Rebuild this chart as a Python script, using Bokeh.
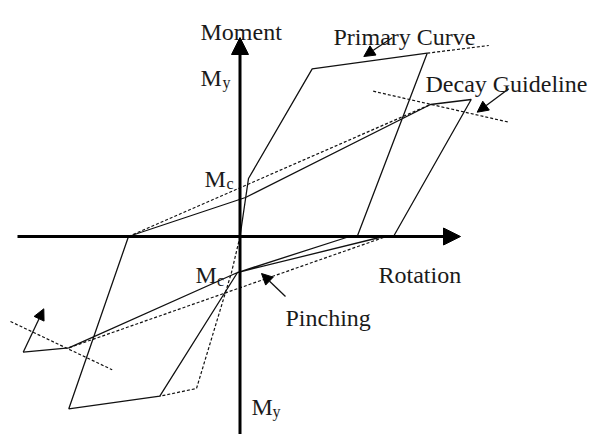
from bokeh.plotting import figure
from bokeh.models import Range1d, Arrow, NormalHead, Label
from bokeh.embed import file_html
from bokeh.resources import INLINE

# Diagram coordinates: rotation (x) and moment (y), origin at the axes crossing
primary_rot = [0, 8.5, 72.2, 187.2]
primary_mom = [0, 58, 167.7, 183.3]
primary_ext_rot = [187.2, 248.8]
primary_ext_mom = [183.3, 191]

neg_primary_rot = [0, -8.5, -43.5, -80.2]
neg_primary_mom = [0, -36, -152, -159.7]

hyst_rot = [187.2, 117.2, 109.5, -2.5, -80.2, -171.2, -111.5, 5.5, 190.5, 231.2,
            153.5, 143.5, -2.5, -171.2, -216.8]
hyst_mom = [183.3, 0, 0, -36, -159.7, -172.3, 0, 39, 132, 137,
            0, 0, -36, -111.3, -115.7]

reload_pos_rot = [-111.5, 190.5]
reload_pos_mom = [0, 132]
reload_neg_rot = [143.5, -171.2]
reload_neg_mom = [-1, -111.3]

decay_pos_rot = [133.2, 268.8]
decay_pos_mom = [145.3, 114.3]
decay_neg_rot = [-229.5, -127.8]
decay_neg_mom = [-85, -133.3]

next_rot = [-216.8, -196.2]
next_mom = [-115.7, -72.3]

W, H = 589, 434
p = figure(width=W, height=H, x_range=Range1d(-239.5, W - 239.5), y_range=Range1d(236 - H, 236),
           output_backend="svg", toolbar_location=None, min_border=0,
           x_axis_location=None, y_axis_location=None)
p.grid.visible = False
p.outline_line_color = None
p.background_fill_color = "white"
p.border_fill_color = "white"

LC = "#111111"
# Coordinate axes
p.add_layout(Arrow(end=NormalHead(size=17, fill_color="black", line_color="black"),
                   x_start=0, y_start=-205, x_end=0, y_end=199, line_width=3, line_color="black"))
p.add_layout(Arrow(end=NormalHead(size=17, fill_color="black", line_color="black"),
                   x_start=-222.5, y_start=0, x_end=220.5, y_end=0, line_width=3, line_color="black"))

# Curves
p.line(primary_rot, primary_mom, line_color=LC, line_width=1.3)
p.line(hyst_rot, hyst_mom, line_color=LC, line_width=1.3)
dash = "3 2"
p.line(primary_ext_rot, primary_ext_mom, line_color=LC, line_width=1.2, line_dash=dash)
p.line(neg_primary_rot, neg_primary_mom, line_color=LC, line_width=1.2, line_dash=dash)
p.line(reload_pos_rot, reload_pos_mom, line_color=LC, line_width=1.2, line_dash=dash)
p.line(reload_neg_rot, reload_neg_mom, line_color=LC, line_width=1.2, line_dash=dash)
p.line(decay_pos_rot, decay_pos_mom, line_color=LC, line_width=1.2, line_dash=dash)
p.line(decay_neg_rot, decay_neg_mom, line_color=LC, line_width=1.2, line_dash=dash)

p.add_layout(Arrow(end=NormalHead(size=11, fill_color="black", line_color="black"),
                   x_start=next_rot[0], y_start=next_mom[0], x_end=next_rot[1], y_end=next_mom[1],
                   line_width=1.3, line_color=LC))

# Annotation arrows
for (xs, ys, xe, ye) in [(152.2, 198.7, 123.8, 180), (268.8, 147.7, 237.2, 124.3), (45.5, -60, 21.5, -37)]:
    p.add_layout(Arrow(end=NormalHead(size=11, fill_color="black", line_color="black"),
                       x_start=xs, y_start=ys, x_end=xe, y_end=ye, line_width=1.3, line_color=LC))

FONT = "Liberation Serif"
def lab(x, y, t, size="24px"):
    p.add_layout(Label(x=x, y=y, text=t, text_font=FONT, text_font_size=size,
                       text_color="#1a1a1a", text_baseline="alphabetic", text_align="left"))

lab(-39.5, 205, "Moment")
lab(93.5, 200, "Primary Curve")
lab(185.5, 153, "Decay Guideline")
lab(138.5, -38, "Rotation")
lab(45.5, -81, "Pinching")
lab(-39.5, 159, "M"); lab(-17.5, 154, "y", "16px")
lab(-35.5, 58, "M"); lab(-13.5, 53, "c", "16px")
lab(-44.5, -38, "M"); lab(-23, -44, "c", "16px")
lab(11.5, -170, "M"); lab(32.5, -175, "y", "16px")

open("out.html", "w").write(file_html(p, INLINE))
